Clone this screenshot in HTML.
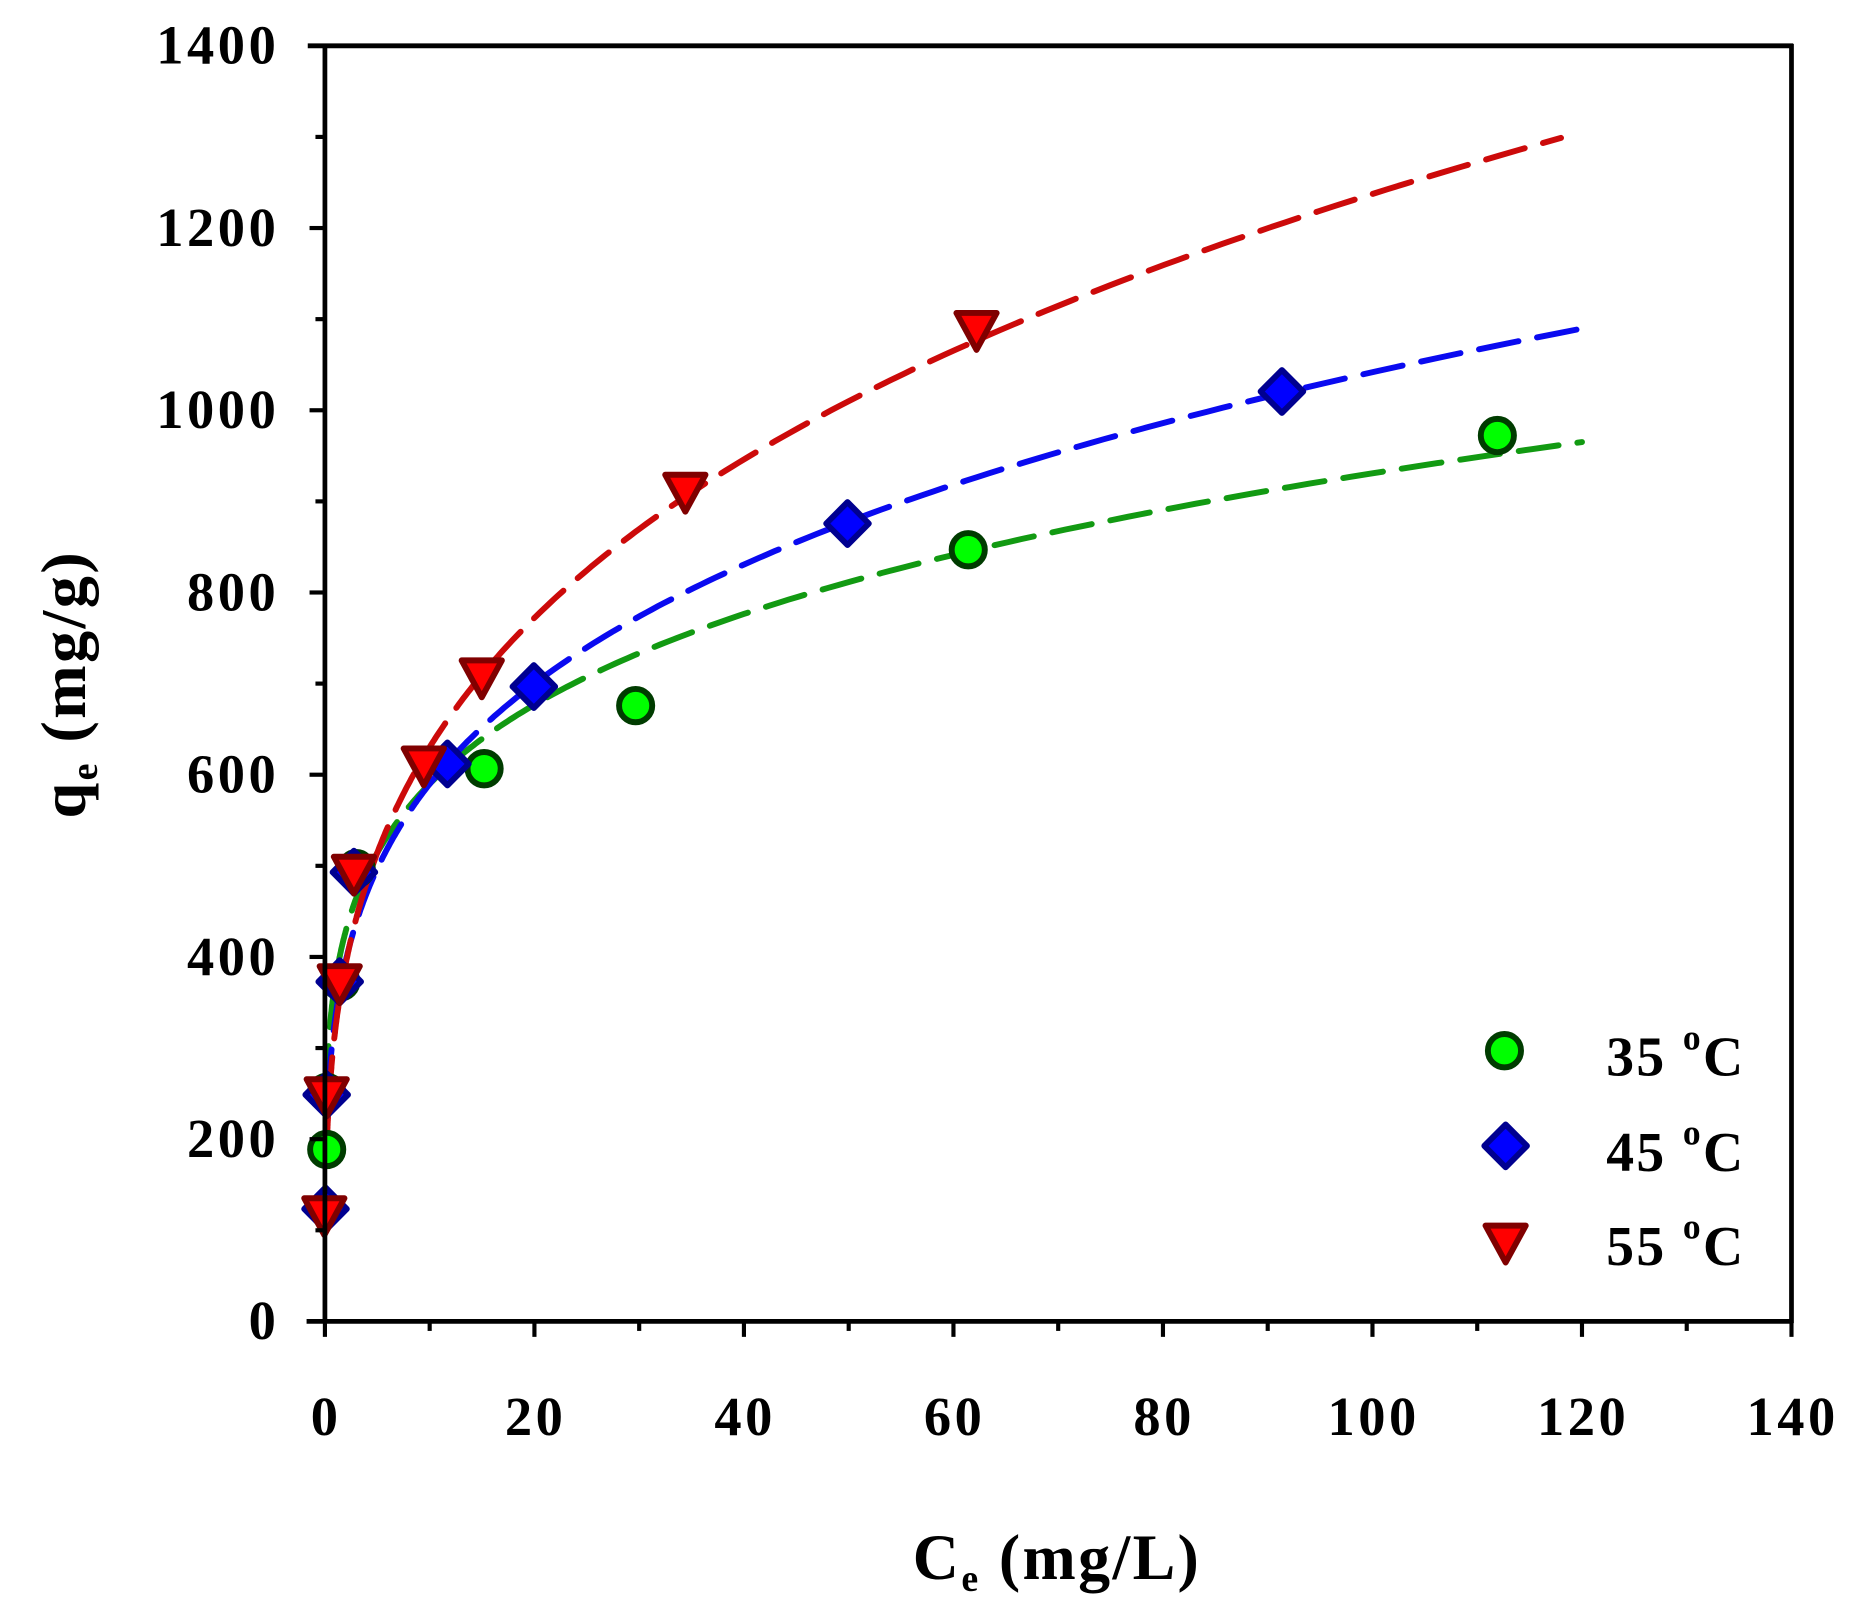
<!DOCTYPE html>
<html><head><meta charset="utf-8"><style>
html,body{margin:0;padding:0;background:#fff;}
svg{display:block;}
text{font-family:"Liberation Serif",serif;font-weight:bold;fill:#000;}
</style></head><body>
<svg id="s" width="1856" height="1604" viewBox="0 0 1568 1348" preserveAspectRatio="none" xmlns="http://www.w3.org/2000/svg">
<rect width="1568" height="1348" fill="#fff"/>
<g id="curves" fill="none" stroke-width="5" stroke-dasharray="34 16" stroke-linecap="round"></g>
<g id="pts"></g>
<g stroke="#000" stroke-width="4" fill="none">
<line x1="260" y1="38.5" x2="1515" y2="38.5"/>
<line x1="1513.5" y1="37" x2="1513.5" y2="1112"/>
<line x1="259" y1="1110.5" x2="1515" y2="1110.5"/>
<line x1="274.5" y1="38" x2="274.5" y2="1112"/>
</g>
<g id="ticks" stroke="#000" stroke-width="3.5"></g>
<g id="labels" font-size="46" letter-spacing="3"></g>
<text x="893" y="1327" font-size="54" letter-spacing="2" text-anchor="middle">C<tspan font-size="32" dy="10">e</tspan><tspan dy="-10"> (mg/L)</tspan></text>
<text transform="translate(72,575) rotate(-90)" font-size="54" letter-spacing="2" text-anchor="middle">q<tspan font-size="32" dy="10">e</tspan><tspan dy="-10"> (mg/g)</tspan></text>
<g font-size="47" letter-spacing="2">
<text x="1357" y="904">35 <tspan font-size="30" dy="-22">o</tspan><tspan dy="22">C</tspan></text>
<text x="1357" y="984">45 <tspan font-size="30" dy="-22">o</tspan><tspan dy="22">C</tspan></text>
<text x="1357" y="1063">55 <tspan font-size="30" dy="-22">o</tspan><tspan dy="22">C</tspan></text>
</g>
</svg>
<script>
const NS="http://www.w3.org/2000/svg";
const X=c=>274.5+c*(1513.5-274.5)/140, Y=q=>1110.5-q*(1110.5-38.5)/1400;
function el(t,a,p){const e=document.createElementNS(NS,t);for(const k in a)e.setAttribute(k,a[k]);p.appendChild(e);return e;}
const tk=document.getElementById('ticks'), lb=document.getElementById('labels');
for(let q=0;q<=1400;q+=100){const maj=q%200==0;el('line',{x1:274.5,x2:274.5-(maj?13:8),y1:Y(q),y2:Y(q)},tk);
 if(maj){const t=el('text',{x:236,y:Y(q)+15,'text-anchor':'end'},lb);t.textContent=q;}}
for(let c=0;c<=140;c+=10){const maj=c%20==0;el('line',{x1:X(c),x2:X(c),y1:1110.5,y2:1110.5+(maj?13:8)},tk);
 if(maj){const t=el('text',{x:X(c)+1,y:1206,'text-anchor':'middle'},lb);t.textContent=c;}}
const cv=document.getElementById('curves');
function curve(K,n,c0,c1,col){let d='';for(let i=0;i<=400;i++){const c=c0*Math.pow(c1/c0,i/400);d+=(i?'L':'M')+X(c).toFixed(1)+','+Y(K*Math.pow(c,n)).toFixed(1);}el('path',{d:d,stroke:col},cv);}
curve(374,0.198,0.035,120,'#129a12');
curve(334,0.247,0.1,120,'#0a0af0');
curve(321,0.293,0.14,118,'#cc0a0a');
const P=document.getElementById('pts');
function circ(x,y){el('circle',{cx:x,cy:y,r:14,fill:'#00ff00',stroke:'#003c00','stroke-width':5},P);}
function dia(x,y){el('path',{d:`M${x},${y-18}L${x+18},${y}L${x},${y+18}L${x-18},${y}Z`,fill:'#0000ff',stroke:'#000090','stroke-width':5,'stroke-linejoin':'round'},P);}
function tri(x,y){el('path',{d:`M${x-17},${y-13}L${x+17},${y-13}L${x},${y+18}Z`,fill:'#ff0000',stroke:'#800000','stroke-width':5,'stroke-linejoin':'round'},P);}
[[276,918],[276,966],[288,825],[301,730],[409,646],[537,593],[818,462],[1265,366]].forEach(p=>circ(...p));
[[275,1016],[276,920],[287,825],[299,733],[378,642],[451,577],[716,440],[1083,329]].forEach(p=>dia(...p));
[[274,1020],[276,920],[287,825],[299,733],[358,642],[407,568],[579,412],[825,276]].forEach(p=>tri(...p));
circ(1271,883);dia(1272,963);tri(1272,1043);
</script>
</body></html>
